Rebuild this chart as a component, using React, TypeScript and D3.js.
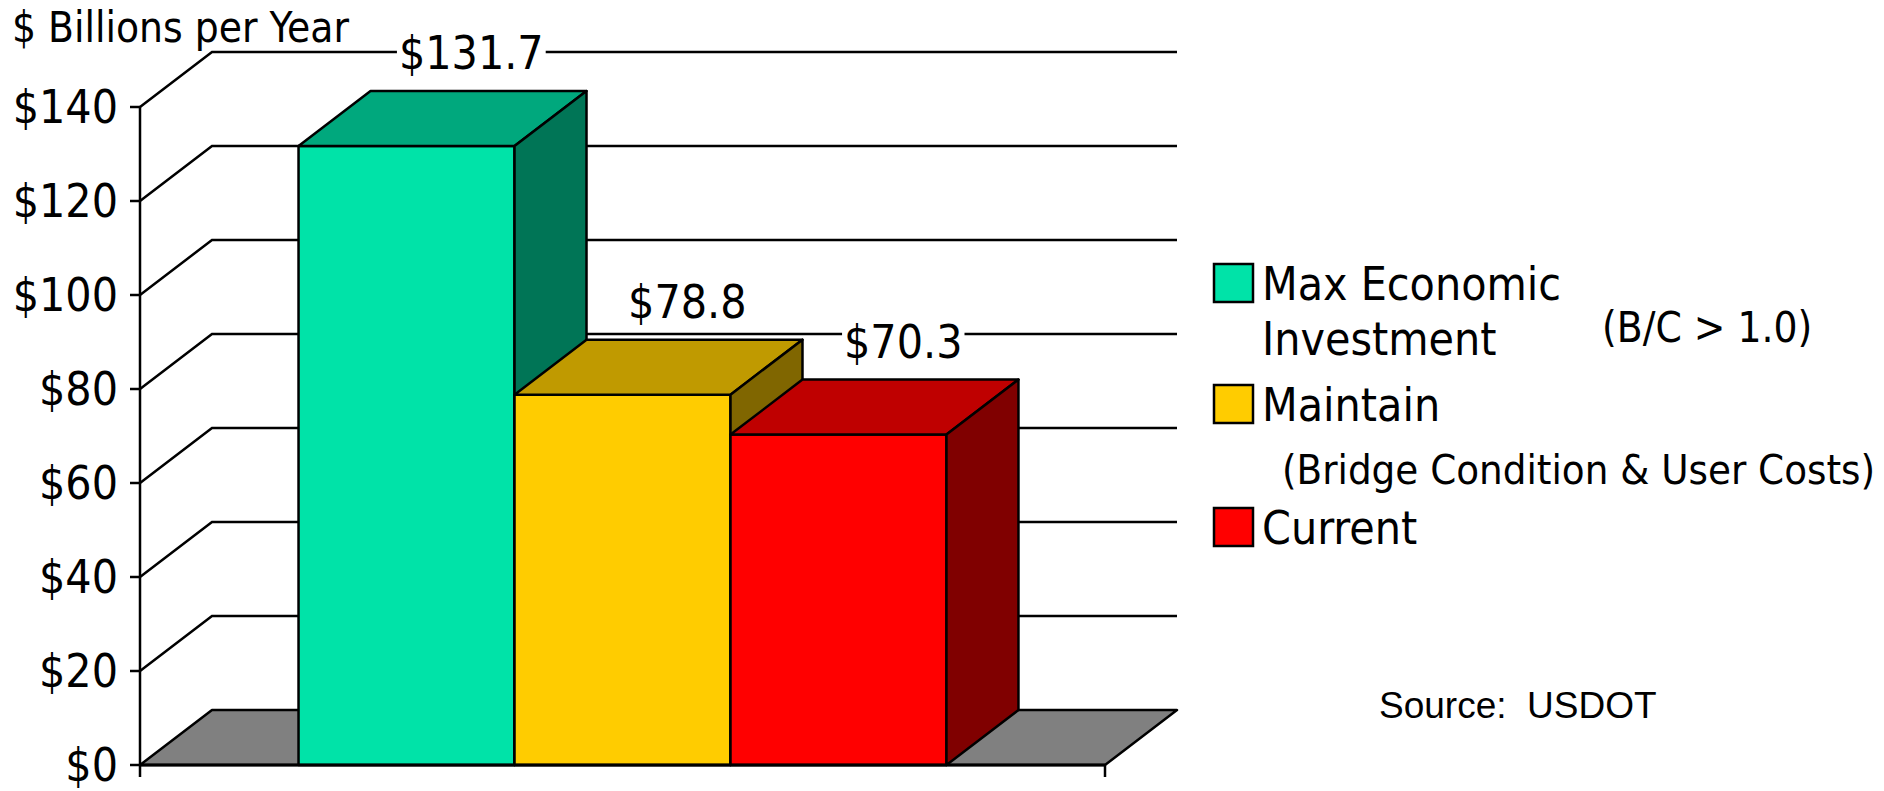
import React, {useEffect, useRef} from "react";
import * as d3 from "d3";

const categories = ["Max Economic Investment", "Maintain", "Current"];
const values = [131.7, 78.8, 70.3];
const valueLabels = ["$131.7", "$78.8", "$70.3"];
const yTicks = [0, 20, 40, 60, 80, 100, 120, 140];
const frontColors = ["#00E3A8", "#FFCC00", "#FF0000"];
const topColors = ["#00A87D", "#C09A00", "#BF0000"];
const sideColors = ["#007556", "#806600", "#800000"];
const legendLines = [["Max Economic", "Investment"], ["Maintain"], ["Current"]];
const legendNotes = ["(B/C > 1.0)", "(Bridge Condition & User Costs)", ""];

const FONT = "'DejaVu Sans Condensed', 'DejaVu Sans', sans-serif";

const App = () => {
  const labelsRef = useRef(null);
  const width = 1884, height = 791;
  const left = 140, right = 1105, bottom = 765, top = 107;
  const dx = 72, dy = 55;

  const y = d3.scaleLinear().domain([0, 140]).range([bottom, top]);
  const x = d3.scaleBand().domain(categories).range([left, right]).paddingInner(0).paddingOuter(0.734);
  const bw = x.bandwidth();

  useEffect(() => {
    // white boxes behind the value labels, sized from the text
    const g = d3.select(labelsRef.current);
    g.selectAll("rect").remove();
    g.selectAll("text").each(function () {
      const b = this.getBBox();
      g.insert("rect", "text")
        .attr("x", b.x - 2).attr("y", b.y + 4)
        .attr("width", b.width + 4).attr("height", b.height - 8)
        .attr("fill", "white");
    });
  }, []);

  const floor = d3.path();
  floor.moveTo(left, bottom);
  floor.lineTo(right, bottom);
  floor.lineTo(right + dx, bottom - dy);
  floor.lineTo(left + dx, bottom - dy);
  floor.closePath();

  return (
    <svg width={width} height={height} style={{position: "absolute", left: 0, top: 0}}>
      <rect width={width} height={height} fill="white" />
      {/* gridlines on the side and back walls */}
      {yTicks.filter(t => t > 0).map(t => (
        <path key={t} d={`M${left},${y(t)}L${left + dx},${y(t) - dy}L${right + dx},${y(t) - dy}`}
          fill="none" stroke="black" strokeWidth={2.5} />
      ))}
      <path d={floor.toString()} fill="#808080" stroke="black" strokeWidth={2.5} strokeLinejoin="round" />

      {/* bars */}
      {categories.map((c, i) => {
        const x0 = x(c), x1 = x0 + bw, yt = y(values[i]), yb = y(0);
        return (
          <g key={c} stroke="black" strokeWidth={2.5} strokeLinejoin="round">
            <rect x={x0} y={yt} width={bw} height={yb - yt} fill={frontColors[i]} />
            <path d={`M${x0},${yt}L${x1},${yt}L${x1 + dx},${yt - dy}L${x0 + dx},${yt - dy}Z`} fill={topColors[i]} />
            <path d={`M${x1},${yt}L${x1 + dx},${yt - dy}L${x1 + dx},${yb - dy}L${x1},${yb}Z`} fill={sideColors[i]} />
          </g>
        );
      })}

      {/* axes */}
      <line x1={left} x2={left} y1={top} y2={bottom + 12} stroke="black" strokeWidth={2.5} />
      <line x1={left} x2={right} y1={bottom} y2={bottom} stroke="black" strokeWidth={3} />
      <line x1={right} x2={right} y1={bottom} y2={bottom + 12} stroke="black" strokeWidth={2.5} />
      {yTicks.map(t => (
        <g key={t}>
          <line x1={left - 10} x2={left} y1={y(t)} y2={y(t)} stroke="black" strokeWidth={2.5} />
          <text x={left - 22} y={y(t)} dy="0.34em" textAnchor="end" fontFamily={FONT} fontSize={46}>{`$${t}`}</text>
        </g>
      ))}
      <text x={12} y={42} fontFamily={FONT} fontSize={42}>$ Billions per Year</text>

      {/* value labels */}
      <g ref={labelsRef}>
        {categories.map((c, i) => (
          <text key={c} x={x(c) + bw / 2 + dx * 0.9} y={y(values[i]) - dy - 22} textAnchor="middle"
            fontFamily={FONT} fontSize={46}>{valueLabels[i]}</text>
        ))}
      </g>

      {/* legend */}
      {categories.map((c, i) => {
        const ly = [264, 385, 508][i];
        return (
          <g key={c}>
            <rect x={1214} y={ly} width={39} height={38} fill={frontColors[i]} stroke="black" strokeWidth={2.5} />
            {legendLines[i].map((s, k) => (
              <text key={s} x={1262} y={ly + 36 + k * 55} fontFamily={FONT} fontSize={46}>{s}</text>
            ))}
          </g>
        );
      })}
      <text x={1602} y={342} fontFamily={FONT} fontSize={42}>{legendNotes[0]}</text>
      <text x={1282} y={484} fontFamily={FONT} fontSize={41.5}>{legendNotes[1]}</text>
      <text x={1379} y={718} fontFamily="'Liberation Sans', Arial, sans-serif" fontSize={37}
        style={{whiteSpace: "pre"}}>{"Source:\u00A0\u00A0USDOT"}</text>
    </svg>
  );
};

export default App;
